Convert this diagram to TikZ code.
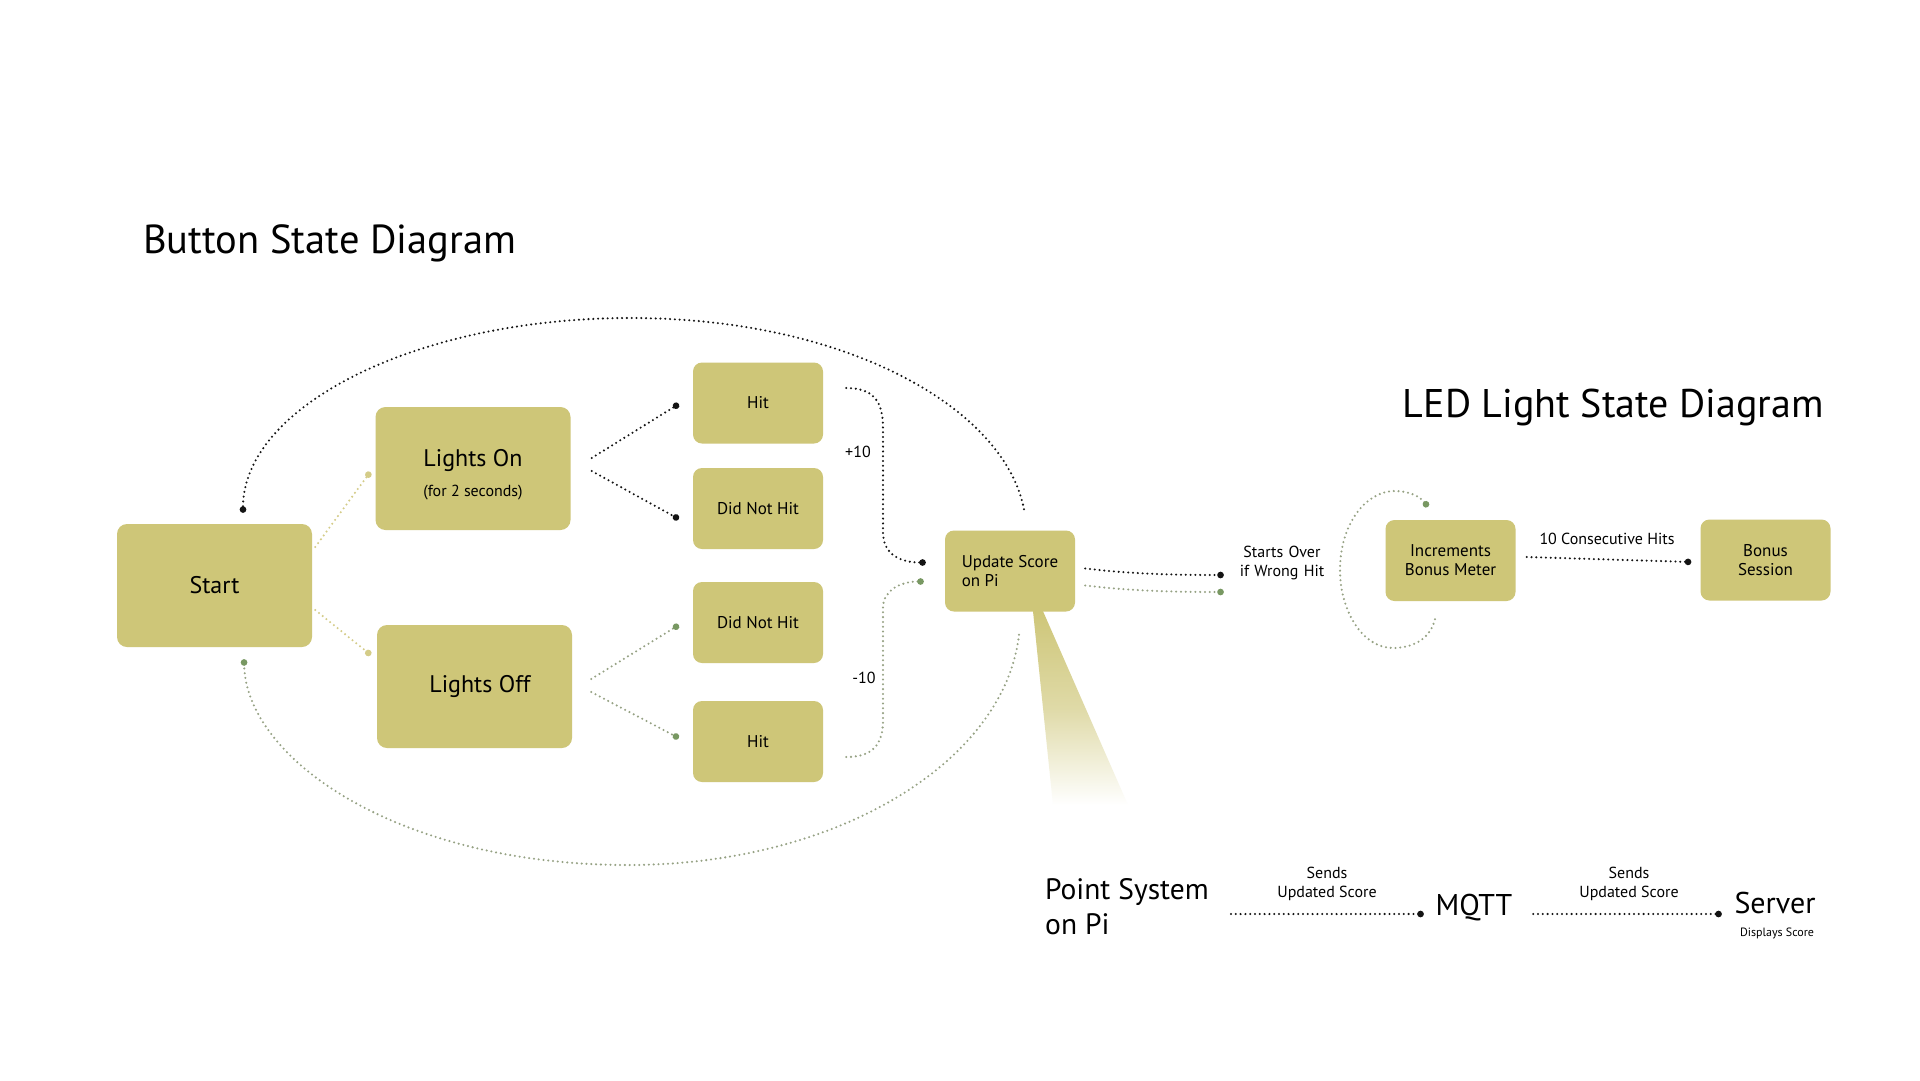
\documentclass[tikz,border=0pt]{standalone}
\usepackage{fontspec}
\setmainfont{PT Sans}
\usetikzlibrary{arrows.meta,calc}
\definecolor{boxc}{RGB}{206,198,120}
\definecolor{dyel}{RGB}{212,204,136}
\definecolor{dgrn}{RGB}{150,162,132}
\definecolor{tgrn}{RGB}{120,152,98}
\definecolor{dblk}{RGB}{20,20,20}
\newcommand\fsz[2]{\fontsize{#1}{#2}\selectfont}
\tikzset{
  bigbox/.style={rectangle, rounded corners=10pt, fill=boxc, minimum width=195pt, minimum height=123pt, inner sep=0pt, align=center, font=\fsz{24}{29}},
  smallbox/.style={rectangle, rounded corners=9pt, fill=boxc, minimum width=130pt, minimum height=81pt, inner sep=0pt, align=center, font=\fsz{17}{19}},
  lbl/.style={inner sep=0pt, align=center, font=\fsz{16}{19}},
  title/.style={inner sep=0pt, anchor=base west, font=\fsz{40.5}{48}},
  bigtxt/.style={inner sep=0pt, font=\fsz{30}{35}},
  dotline/.style={line width=2.3pt, line cap=round, dash pattern=on 0pt off 4.8pt},
  blk/.style={dotline, draw=dblk, -{Circle[length=6.5pt, fill=dblk]}},
  yel/.style={dotline, draw=dyel, -{Circle[length=6.5pt, fill=dyel]}},
  grn/.style={dotline, draw=dgrn, -{Circle[length=6.5pt, color=tgrn, fill=tgrn]}},
}
\begin{document}
\begin{tikzpicture}[x=1pt,y=-1pt]
\useasboundingbox (0,0) rectangle (1920,1080);
\fill[white] (0,0) rectangle (1920,1080);

% titles
\node[title] (t1) at (143,253) {Button State Diagram};
\node[title, anchor=base east, font=\fsz{40}{48}] (t2) at (1824,417) {LED Light State Diagram};

% button state boxes
\node[bigbox] (start) at (214.5,585.5) {Start};
\node[bigbox] (lon) at (473,468.5) {};
\node[inner sep=0pt, align=center, font=\fsz{24}{29}] (lontxt) at ($(lon.center)+(0,6)$) {Lights On\\[1pt]\fsz{16}{19}(for 2 seconds)};
\node[bigbox] (loff) at (474.5,686.5) {\hspace*{11pt}Lights Off};
\node[smallbox] (hit1) at (758,403) {Hit};
\node[smallbox] (dnh1) at (758,508.5) {Did Not Hit};
\node[smallbox] (dnh2) at (758,622.5) {Did Not Hit};
\node[smallbox] (hit2) at (758,741.5) {Hit};
\node[smallbox, align=left] (upd) at (1010,571) {Update Score\\on Pi};

% beam
\shade[top color=boxc, bottom color=white, middle color=boxc!65]
  ($(upd.south)+(23,-0.5)$) -- ($(upd.south)+(33,-0.5)$) -- (1128,805) -- (1053,805) -- cycle;

% LED boxes
\node[smallbox] (inc) at (1450.5,560.5) {Increments\\Bonus Meter};
\node[smallbox] (bonus) at (1765.5,560) {Bonus\\Session};

% labels
\node[lbl] (p10) at (858,452) {+10};
\node[lbl] (m10) at (864,678) {-10};
\node[lbl, text width=92pt] (so) at (1282,563) {Starts Over\\if Wrong Hit};
\node[lbl] (cons) at (1607,539) {10 Consecutive Hits};

% bottom chain
\node[bigtxt, anchor=west, align=left, font=\fsz{29.5}{35}] (ps) at (1045,907) {Point System\\on Pi};
\node[bigtxt, anchor=base, text width=88pt, align=center] (mqtt) at (1474,915) {MQTT};
\node[bigtxt, anchor=base, text width=96pt, align=center] (server) at (1775,913) {Server};
\node[lbl, font=\fsz{12}{14}] (disp) at (1777,933) {Displays Score};
\node[lbl] (s1) at (1327,884) {Sends\\Updated Score};
\node[lbl] (s2) at (1629,884) {Sends\\Updated Score};

% connectors
\draw[yel] ($(start.east)+(3,-38.5)$) -- ($(lon.west)+(-5,3.5)$);
\draw[yel] ($(start.east)+(3,24.5)$) -- ($(loff.west)+(-6,-31.5)$);
\draw[blk] ($(lon.east)+(21,-10.5)$) -- ($(hit1.west)+(-14,1)$);
\draw[blk] ($(lon.east)+(21,2.5)$) -- ($(dnh1.west)+(-14,10.5)$);
\draw[grn] ($(loff.east)+(19,-7.5)$) -- ($(dnh2.west)+(-14,2.5)$);
\draw[grn] ($(loff.east)+(19,5.5)$) -- ($(hit2.west)+(-14,-3.5)$);

\draw[blk] ($(hit1.east)+(23,-15)$) .. controls +(26,0) and +(0,-28) .. (883,428) -- (883,532)
  .. controls +(0,23) and +(-25,0) .. ($(upd.west)+(-19,-8.5)$);
\draw[grn] ($(hit2.east)+(23,15.5)$) .. controls +(26,0) and +(0,25) .. (883,720) -- (883,608)
  .. controls +(0,-18) and +(-23,0) .. ($(upd.west)+(-21,10.5)$);

\draw[blk] ($(upd.north)+(14,-21)$) .. controls (1005,410) and (850,318) .. (630,318)
  .. controls (417,318) and (243,406) .. ($(start.north)+(28.5,-11)$);
\draw[grn] ($(upd.south)+(9,23)$) .. controls (1005,760) and (840,865) .. (628,865)
  .. controls (400,865) and (246,760) .. ($(start.south)+(29.5,12)$);

\draw[blk] ($(upd.east)+(10,-2.5)$) .. controls +(50,6) and +(-40,0) .. ($(so.west)+(-12,12)$);
\draw[grn] ($(upd.east)+(10,14.5)$) .. controls +(50,6) and +(-40,0) .. ($(so.west)+(-12,29)$);

\draw[grn] ($(inc.south)+(-15.5,18)$) .. controls +(-5,21) and +(18,0) .. (1393,648)
  .. controls +(-31,0) and +(0,40) .. (1340,570)
  .. controls +(0,-45) and +(-30,0) .. (1395,491)
  .. controls +(15,0) and +(-8,-10) .. ($(inc.north)+(-22.5,-13)$);
\draw[blk] ($(inc.east)+(11,-3.5)$) -- ($(bonus.west)+(-9,2)$);

\draw[blk] ($(ps.west)+(186,7)$) -- ($(mqtt.west|-ps.west)+(-6,7)$);
\draw[blk] ($(mqtt.east|-ps.west)+(15,7)$) -- ($(server.west|-ps.west)+(-5,7)$);
\end{tikzpicture}
\end{document}
